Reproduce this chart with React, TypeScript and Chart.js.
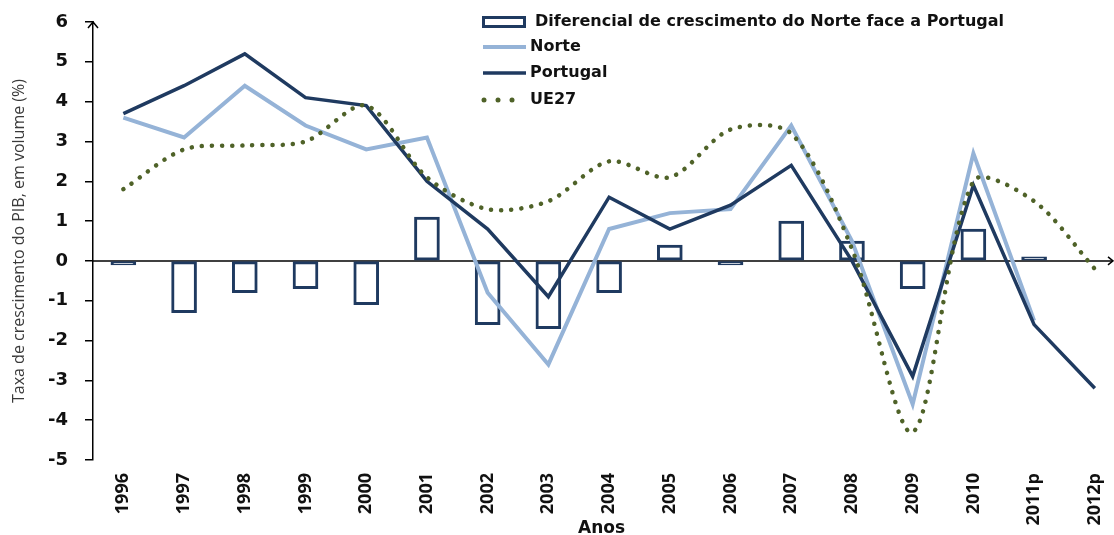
import React, { useEffect, useRef } from "react";
import { Chart, registerables } from "chart.js";

Chart.register(...registerables);

const categories = ["1996", "1997", "1998", "1999", "2000", "2001", "2002", "2003", "2004", "2005", "2006", "2007", "2008", "2009", "2010", "2011p", "2012p"];
const diferencial = [-0.1, -1.3, -0.8, -0.7, -1.1, 1.1, -1.6, -1.7, -0.8, 0.4, -0.1, 1.0, 0.5, -0.7, 0.8, 0.1, null];
const norte = [3.6, 3.1, 4.4, 3.4, 2.8, 3.1, -0.8, -2.6, 0.8, 1.2, 1.3, 3.4, 0.5, -3.6, 2.7, -1.5, null];
const portugal = [3.7, 4.4, 5.2, 4.1, 3.9, 2.0, 0.8, -0.9, 1.6, 0.8, 1.4, 2.4, 0.0, -2.9, 1.9, -1.6, -3.2];
const ue27 = [1.8, 2.8, 2.9, 3.0, 3.9, 2.1, 1.3, 1.5, 2.5, 2.1, 3.3, 3.2, 0.3, -4.3, 2.0, 1.5, -0.2];
const yTickValues = [-5, -4, -3, -2, -1, 0, 1, 2, 3, 4, 5, 6];

const legendLabels = [
  "Diferencial de crescimento do Norte face a Portugal",
  "Norte",
  "Portugal",
  "UE27",
];

const DARK = "#1F3A60";
const LIGHT = "#95B3D7";
const GREEN = "#4F6228";
const TEXT = "#111111";

const toPoints = (arr: (number | null)[]) =>
  arr.map((v, i) => ({ x: i, y: v }));

const axesPlugin = {
  id: "axesArrows",
  beforeDatasetsDraw(chart: any) {
    const { ctx, chartArea, scales } = chart;
    const y0 = scales.y.getPixelForValue(0);
    ctx.save();
    ctx.strokeStyle = "#000";
    ctx.lineWidth = 1.5;
    ctx.beginPath();
    ctx.moveTo(chartArea.left, y0);
    ctx.lineTo(chartArea.right + 2, y0);
    ctx.stroke();
    ctx.restore();
  },
  afterDraw(chart: any) {
    const { ctx, chartArea, scales } = chart;
    const y0 = scales.y.getPixelForValue(0);
    ctx.save();
    ctx.strokeStyle = "#000";
    ctx.lineWidth = 1.5;
    const ax = chartArea.left;
    ctx.beginPath();
    ctx.moveTo(ax, chartArea.top + 2);
    ctx.lineTo(ax, chartArea.top - 1);
    ctx.moveTo(ax - 5, chartArea.top + 6);
    ctx.lineTo(ax, chartArea.top);
    ctx.lineTo(ax + 5, chartArea.top + 6);
    ctx.stroke();
    const rx = chartArea.right + 3;
    ctx.beginPath();
    ctx.moveTo(rx - 5, y0 - 4);
    ctx.lineTo(rx, y0);
    ctx.lineTo(rx - 5, y0 + 4);
    ctx.stroke();
    ctx.restore();
  },
};

const legendPlugin = {
  id: "customLegend",
  afterDraw(chart: any) {
    const ctx = chart.ctx;
    ctx.save();
    const rows = [22, 47, 73, 100];
    ctx.fillStyle = "#fff";
    ctx.strokeStyle = DARK;
    ctx.lineWidth = 3;
    ctx.fillRect(483.5, 17.5, 41, 9);
    ctx.strokeRect(483.5, 17.5, 41, 9);
    ctx.lineWidth = 4;
    ctx.strokeStyle = LIGHT;
    ctx.beginPath();
    ctx.moveTo(483, rows[1]);
    ctx.lineTo(526, rows[1]);
    ctx.stroke();
    ctx.lineWidth = 3.5;
    ctx.strokeStyle = DARK;
    ctx.beginPath();
    ctx.moveTo(483, rows[2]);
    ctx.lineTo(526, rows[2]);
    ctx.stroke();
    ctx.fillStyle = GREEN;
    [484, 498, 512].forEach((x) => {
      ctx.beginPath();
      ctx.arc(x, rows[3], 2.5, 0, Math.PI * 2);
      ctx.fill();
    });
    ctx.fillStyle = TEXT;
    ctx.font = "bold 16px 'DejaVu Sans'";
    ctx.textBaseline = "middle";
    ctx.textAlign = "left";
    ctx.fillText(legendLabels[0], 535, rows[0]);
    ctx.fillText(legendLabels[1], 530, rows[1]);
    ctx.fillText(legendLabels[2], 530, rows[2]);
    ctx.fillText(legendLabels[3], 530, rows[3]);
    ctx.restore();
  },
};

export default function App() {
  const canvasRef = useRef<HTMLCanvasElement | null>(null);

  useEffect(() => {
    const canvas = canvasRef.current;
    if (!canvas) return;
    const chart = new Chart(canvas, {
      type: "bar",
      data: {
        datasets: [
          {
            type: "bar",
            label: legendLabels[0],
            data: toPoints(diferencial) as any,
            backgroundColor: "#ffffff",
            borderColor: DARK,
            borderWidth: 3,
            borderSkipped: false,
            barThickness: 25,
            order: 3,
          },
          {
            type: "line",
            label: legendLabels[1],
            data: toPoints(norte) as any,
            borderColor: LIGHT,
            borderWidth: 4,
            pointRadius: 0,
            tension: 0,
            spanGaps: false,
            order: 2,
          },
          {
            type: "line",
            label: legendLabels[2],
            data: toPoints(portugal) as any,
            borderColor: DARK,
            borderWidth: 3.5,
            pointRadius: 0,
            tension: 0,
            order: 1,
          },
          {
            type: "line",
            label: legendLabels[3],
            data: toPoints(ue27) as any,
            borderColor: GREEN,
            borderWidth: 4.5,
            borderDash: [0.1, 10],
            borderCapStyle: "round",
            pointRadius: 0,
            tension: 0.3,
            order: 0,
          },
        ] as any,
      },
      options: {
        animation: false,
        responsive: false,
        maintainAspectRatio: false,
        layout: { padding: { left: 0, right: 4, top: 22, bottom: 0 } },
        plugins: {
          legend: { display: false },
          tooltip: { enabled: false },
          title: { display: false },
        },
        scales: {
          x: {
            type: "linear",
            min: -0.5,
            max: 16.25,
            offset: false,
            grid: { display: false, drawTicks: false },
            border: { display: false },
            afterBuildTicks: (scale: any) => {
              scale.ticks = categories.map((_, i) => ({ value: i }));
            },
            afterFit: (scale: any) => {
              scale.height = 75;
              scale.paddingLeft = 0;
              scale.paddingRight = 0;
            },
            ticks: {
              autoSkip: false,
              minRotation: 90,
              maxRotation: 90,
              padding: 13,
              color: TEXT,
              font: { family: "'Open Sans'", weight: "bold", size: 18 },
              callback: (v: any) => categories[v as number] ?? "",
            },
            title: {
              display: true,
              text: "Anos",
              color: TEXT,
              font: { family: "'DejaVu Sans'", weight: "bold", size: 17, lineHeight: 1 },
              padding: { top: 0, bottom: -2 },
            },
          },
          y: {
            type: "linear",
            min: -5,
            max: 6,
            afterBuildTicks: (scale: any) => {
              scale.ticks = yTickValues.map((v) => ({ value: v }));
            },
            afterFit: (scale: any) => {
              scale.width = 93;
              scale.paddingTop = 0;
              scale.paddingBottom = 0;
            },
            grid: {
              display: true,
              drawOnChartArea: false,
              drawTicks: true,
              tickLength: 8,
              color: "#000",
              lineWidth: 1.5,
            },
            border: { display: true, color: "#000", width: 1.5 },
            ticks: {
              padding: 17,
              color: TEXT,
              font: { family: "'DejaVu Sans'", weight: "bold", size: 18 },
              callback: (v: any) => String(v),
            },
            title: {
              display: true,
              text: "Taxa de crescimento do PIB, em volume (%)",
              color: "#3a3a3a",
              font: { family: "'Open Sans'", size: 16 },
              padding: { top: 10, bottom: 0 },
            },
          },
        },
      },
      plugins: [axesPlugin, legendPlugin],
    });
    return () => chart.destroy();
  }, []);

  return (
    <div style={{ position: "fixed", left: 0, top: 0, width: 1114, height: 535, background: "#fff" }}>
      <canvas ref={canvasRef} width={1114} height={535} style={{ width: 1114, height: 535, display: "block" }} />
    </div>
  );
}
